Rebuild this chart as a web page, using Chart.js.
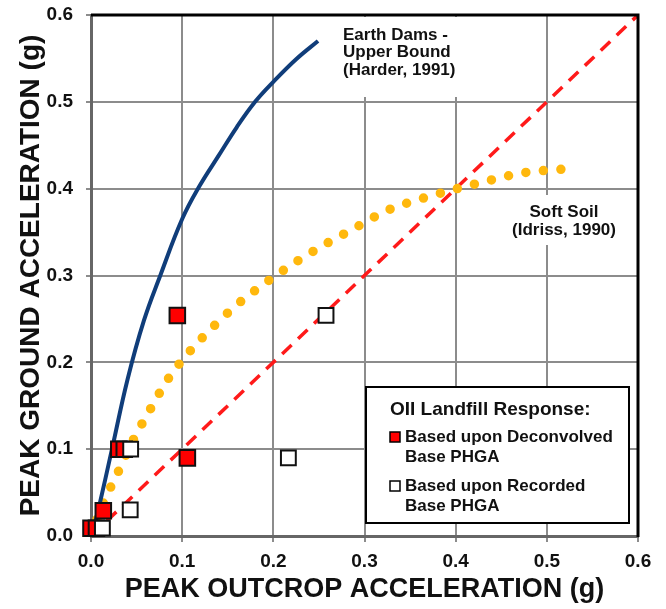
<!DOCTYPE html>
<html>
<head>
<meta charset="utf-8">
<script src="https://cdn.jsdelivr.net/npm/chart.js@4.4.1/dist/chart.umd.min.js"></script>
<style>
  html, body { margin: 0; padding: 0; background: #fff; }
  #wrap { width: 666px; height: 609px; }
</style>
</head>
<body>
<div id="wrap"><canvas id="pgaChart" width="666" height="609"></canvas></div>
<script>
// Peak ground vs peak outcrop acceleration, OII landfill

// tick values (both axes)
const tickValues = [0, 0.1, 0.2, 0.3, 0.4, 0.5, 0.6];

// 1:1 line
const equalX = [0, 0.6];
const equalY = [0, 0.6];

// Earth Dams - Upper Bound (Harder, 1991)
const damX = [0.002, 0.008, 0.023, 0.040, 0.058, 0.076, 0.100, 0.119, 0.140, 0.160, 0.180, 0.200, 0.225, 0.249];
const damY = [0.005, 0.030, 0.100, 0.180, 0.248, 0.300, 0.365, 0.403, 0.438, 0.471, 0.500, 0.523, 0.549, 0.570];

// Soft Soil (Idriss, 1990)
const softX = [0, 0.0135, 0.029, 0.046, 0.064, 0.084, 0.107, 0.134, 0.162, 0.192, 0.224, 0.257, 0.290, 0.325, 0.361, 0.398, 0.435, 0.473, 0.511, 0.532];
const softY = [0, 0.038, 0.072, 0.110, 0.144, 0.180, 0.211, 0.241, 0.268, 0.292, 0.315, 0.336, 0.355, 0.375, 0.388, 0.399, 0.409, 0.418, 0.422, 0.423];

// based upon deconvolved base PHGA
const deconvX = [0.000, 0.006, 0.0135, 0.0305, 0.0365, 0.0947, 0.1057];
const deconvY = [0.009, 0.009, 0.029, 0.100, 0.100, 0.254, 0.090];

// based upon recorded base PHGA
const recordX = [0.0125, 0.043, 0.0435, 0.2165, 0.2578];
const recordY = [0.009, 0.030, 0.100, 0.090, 0.254];

const FONT = '"Liberation Sans", Arial, sans-serif';

function toPoints(xs, ys) {
    return xs.map((v, i) => ({ x: v, y: ys[i] }));
}

const curveLabels = {
    id: 'curveLabels',
    beforeDatasetsDraw(chart) {
        const { ctx } = chart;
        ctx.save();
        // white panels behind the labels hide the grid
        ctx.fillStyle = '#fff';
        ctx.fillRect(336, 17, 131, 80);
        ctx.fillRect(505, 195, 120, 50);

        ctx.fillStyle = '#111';
        ctx.font = 'bold 17px ' + FONT;
        ctx.textBaseline = 'middle';
        ctx.textAlign = 'left';
        ['Earth Dams -', 'Upper Bound', '(Harder, 1991)'].forEach((t, i) => {
            ctx.fillText(t, 343, 35 + i * 17.5);
        });
        ctx.textAlign = 'center';
        ['Soft Soil', '(Idriss, 1990)'].forEach((t, i) => {
            ctx.fillText(t, 564, 212 + i * 18.5);
        });
        ctx.restore();
    },
    afterDatasetsDraw(chart) {
        const { ctx, chartArea: a } = chart;
        ctx.save();
        // top / right frame
        ctx.strokeStyle = '#000';
        ctx.lineWidth = 3;
        ctx.beginPath();
        ctx.moveTo(a.left, a.top);
        ctx.lineTo(a.right, a.top);
        ctx.lineTo(a.right, a.bottom + 1);
        ctx.stroke();

        // legend box
        ctx.fillStyle = '#fff';
        ctx.fillRect(366, 387, 263, 136);
        ctx.lineWidth = 2;
        ctx.strokeRect(366, 387, 263, 136);

        ctx.fillStyle = '#111';
        ctx.textBaseline = 'middle';
        ctx.textAlign = 'left';
        ctx.font = 'bold 19px ' + FONT;
        ctx.fillText('OII Landfill Response:', 390, 410);
        ctx.font = 'bold 17px ' + FONT;
        ctx.fillText('Based upon Deconvolved', 405, 437);
        ctx.fillText('Base PHGA', 405, 457);
        ctx.fillText('Based upon Recorded', 405, 486);
        ctx.fillText('Base PHGA', 405, 506);

        ctx.lineWidth = 1.5;
        ctx.strokeStyle = '#000';
        ctx.fillStyle = '#ff0000';
        ctx.fillRect(390, 432, 10, 10);
        ctx.strokeRect(390, 432, 10, 10);
        ctx.fillStyle = '#fff';
        ctx.fillRect(390, 481, 10, 10);
        ctx.strokeRect(390, 481, 10, 10);
        ctx.restore();
    }
};

function axisOptions(title, isX) {
    return {
        type: 'linear',
        min: 0,
        max: 0.6,
        afterBuildTicks: (s) => { s.ticks = tickValues.map(v => ({ value: v })); },
        afterFit: (s) => {
            // fixed axis boxes, no label overflow padding
            if (isX) s.height = 73; else s.width = 91;
            s.paddingTop = 0;
            s.paddingBottom = 0;
            s.paddingLeft = 0;
            s.paddingRight = 0;
        },
        grid: { color: '#8c8c8c', lineWidth: 2, tickLength: isX ? 6 : 5 },
        border: { color: '#666', width: 3 },
        ticks: {
            color: '#111',
            font: { family: FONT, size: 19, weight: 'bold' },
            padding: isX ? 8 : 13,
            callback: (v) => Number(v).toFixed(1)
        },
        title: {
            display: true,
            text: title,
            color: '#111',
            font: { family: FONT, size: isX ? 27 : 28, weight: 'bold' },
            padding: isX ? { top: 3, bottom: 3 } : { top: 14, bottom: 14 }
        }
    };
}

const ctx = document.getElementById('pgaChart').getContext('2d');
new Chart(ctx, {
    type: 'scatter',
    data: {
        datasets: [
            {
                label: '1:1',
                data: toPoints(equalX, equalY),
                showLine: true,
                borderColor: '#ff1a1a',
                borderWidth: 3.5,
                borderDash: [13, 9],
                pointRadius: 0,
                order: 5
            },
            {
                label: 'Soft Soil (Idriss, 1990)',
                data: toPoints(softX, softY),
                showLine: true,
                borderColor: '#ffb80d',
                borderWidth: 9.5,
                borderDash: [0, 17.6],
                borderCapStyle: 'round',
                cubicInterpolationMode: 'monotone',
                pointRadius: 0,
                order: 4
            },
            {
                label: 'Earth Dams - Upper Bound (Harder, 1991)',
                data: toPoints(damX, damY),
                showLine: true,
                borderColor: '#103d7a',
                borderWidth: 4,
                tension: 0.4,
                pointRadius: 0,
                order: 3
            },
            {
                label: 'Based upon Deconvolved Base PHGA',
                data: toPoints(deconvX, deconvY),
                pointStyle: 'rect',
                pointRadius: 11,
                pointBackgroundColor: '#ff0000',
                pointBorderColor: '#111',
                pointBorderWidth: 2,
                clip: false,
                order: 2
            },
            {
                label: 'Based upon Recorded Base PHGA',
                data: toPoints(recordX, recordY),
                pointStyle: 'rect',
                pointRadius: 10.5,
                pointBackgroundColor: '#fff',
                pointBorderColor: '#111',
                pointBorderWidth: 2,
                clip: false,
                order: 1
            }
        ]
    },
    options: {
        responsive: false,
        animation: false,
        devicePixelRatio: 1,
        layout: { padding: { top: 15, right: 28, left: 0, bottom: 0 } },
        plugins: {
            legend: { display: false },
            tooltip: { enabled: false }
        },
        scales: {
            x: axisOptions('PEAK OUTCROP ACCELERATION (g)', true),
            y: axisOptions('PEAK GROUND ACCELERATION (g)', false)
        }
    },
    plugins: [curveLabels]
});
</script>
</body>
</html>
